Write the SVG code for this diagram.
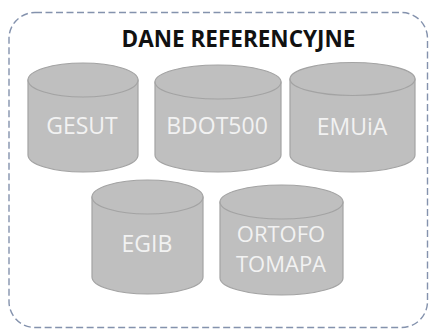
<svg xmlns="http://www.w3.org/2000/svg" width="430" height="330" viewBox="0 0 430 330">
<style>
.cyl{fill:#bfbfbf;stroke:#a3a3a3;stroke-width:1.2}
.lbl{font-family:"Open Sans","Noto Sans",sans-serif;font-size:23px;fill:#f2f2f2;text-anchor:middle}
.lbl2{font-size:22px}
.title{font-family:"Open Sans","Noto Sans",sans-serif;font-size:22.5px;font-weight:bold;fill:#111;text-anchor:middle}
</style>
<rect x="9" y="12.5" width="418.5" height="315" rx="26" ry="26" fill="#ffffff" stroke="#8492ad" stroke-width="1.4" stroke-dasharray="7 3.5"/>
<text class="title" x="238.5" y="47">DANE REFERENCYJNE</text>
<g id="gesut">
<path class="cyl" d="M28,80 L28,155 A55,17 0 0 0 138,155 L138,80 Z"/>
<ellipse class="cyl" cx="83" cy="80" rx="55" ry="17"/>
<text class="lbl" x="82" y="134">GESUT</text>
</g>
<g id="bdot500">
<path class="cyl" d="M155,82 L155,155 A63,17 0 0 0 281,155 L281,82 Z"/>
<ellipse class="cyl" cx="218" cy="82" rx="63" ry="17"/>
<text class="lbl" x="217" y="134">BDOT500</text>
</g>
<g id="emuia">
<path class="cyl" d="M290,79 L290,155 A62.5,17 0 0 0 415,155 L415,79 Z"/>
<ellipse class="cyl" cx="352.5" cy="79" rx="62.5" ry="16.5"/>
<text class="lbl" x="352" y="135">EMUiA</text>
</g>
<g id="egib">
<path class="cyl" d="M92,197 L92,277 A55.5,17 0 0 0 203,277 L203,197 Z"/>
<ellipse class="cyl" cx="147.5" cy="197" rx="55.5" ry="17"/>
<text class="lbl" x="147" y="252">EGIB</text>
</g>
<g id="ortofotomapa">
<path class="cyl" d="M220,202 L220,278 A61.5,17 0 0 0 343,278 L343,202 Z"/>
<ellipse class="cyl" cx="281.5" cy="202" rx="61.5" ry="17"/>
<text class="lbl lbl2"><tspan x="281" y="242">ORTOFO</tspan><tspan x="281" y="272">TOMAPA</tspan></text>
</g>
<g id="connectors"/>
</svg>
